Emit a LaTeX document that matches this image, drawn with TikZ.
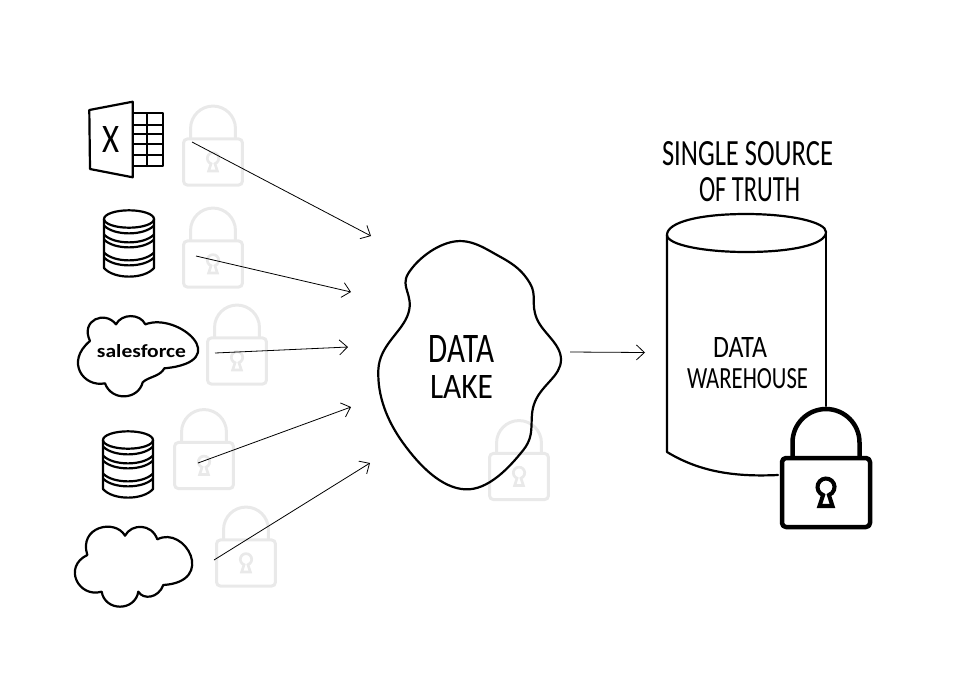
\documentclass[tikz,border=0pt]{standalone}
\usepackage{fontspec}
\setmainfont{Carlito}
\usepackage{tikz}
\usetikzlibrary{arrows.meta}

\definecolor{lockgrey}{HTML}{E9E9E9}
\newcommand{\fitlabel}[3]{\resizebox{#1pt}{#2pt}{#3}}

\tikzset{
 sketch/.style={line width=2.2pt,line join=round,line cap=round},
 flow/.style={->,line width=0.8pt},
 word/.style={inner sep=0pt,outer sep=0pt},
 >={Straight Barb[length=8pt,width=15pt,line width=0.8pt]},
 padlock/.pic={
  \draw[rounded corners=4pt] (-44,-34.5) rectangle (44,34.5);
  \draw (-33.5,-34.5) -- (-33.5,-50) arc[start angle=180,end angle=360,radius=33.5] -- (33.5,-34.5);
  \draw[line width=.95\pgflinewidth,line join=miter] (-6.5,13.5) -- (-2.9,2.5) arc[start angle=110,end angle=430,radius=8.5] -- (6.5,13.5) -- cycle;
 },
 dbstack/.pic={
  \draw (0,0) ellipse (25 and 8.7);
  \draw (-25,0) -- (-25,49) .. controls (-15,60.5) and (15,60.5) .. (25,49) -- (25,0);
  \foreach \dy in {6.5,15.5,20.5,33.5,38.5}
   \draw (-25,\dy) .. controls (-15,\dy+10.5) and (15,\dy+10.5) .. (25,\dy);
 },
}

\begin{document}
\begin{tikzpicture}[x=1pt,y=-1pt]
\useasboundingbox (0,0) rectangle (979,697);

 \path pic[color=lockgrey,line width=3pt,scale=.67] (lockA) at (213,162) {padlock};
 \path pic[color=lockgrey,line width=3pt,scale=.67] (lockB) at (213,264) {padlock};
 \path pic[color=lockgrey,line width=3pt,scale=.67] (lockC) at (237,361) {padlock};
 \path pic[color=lockgrey,line width=3pt,scale=.67] (lockD) at (204,465.5) {padlock};
 \path pic[color=lockgrey,line width=3pt,scale=.67] (lockE) at (246,563) {padlock};
 \path pic[color=lockgrey,line width=3pt,scale=.67] (lockF) at (519,476.5) {padlock};

 \draw[sketch] (89.3,110) -- (132.7,101.7) -- (132.7,177.3) -- (90,169) -- cycle;
 \draw[sketch] (134,113.3) -- (162.7,113.3) -- (162.7,166) -- (134,166);
 \draw[sketch] (147.3,113.3) -- (147.3,166);
 \foreach \rowy in {125,134.3,144.3,155}
  \draw[sketch] (134,\rowy) -- (162.7,\rowy);
 \node[word] (excel) at (110.5,139) {\fitlabel{17}{26}{X}};

 \path pic[sketch] (dbA) at (129,219) {dbstack};
 \path pic[sketch] (dbB) at (128,440) {dbstack};

\begin{scope}[shift={(70,305)},scale=1/3]
 \draw[sketch] (60,108) .. controls (30,45) and (105,15) .. (138,58)
  .. controls (155,25) and (210,25) .. (226,58)
  .. controls (325,20) and (495,170) .. (283,190)
  .. controls (270,215) and (235,215) .. (218,232)
  .. controls (205,285) and (125,290) .. (105,235)
  .. controls (40,248) and (-15,170) .. (60,108);
\end{scope}
 \node[word] (sales) at (141.5,351) {\fitlabel{89}{13}{\bfseries salesforce}};

\begin{scope}[shift={(60,390)},scale=1/3]
 \draw[sketch] (82,495) .. controls (55,410) and (165,385) .. (195,437)
  .. controls (215,400) and (275,400) .. (292,448)
  .. controls (375,405) and (470,575) .. (310,585)
  .. controls (295,625) and (250,630) .. (235,605)
  .. controls (225,665) and (135,665) .. (125,605)
  .. controls (55,625) and (8,530) .. (82,495);
\end{scope}

\begin{scope}[shift={(360,230)},scale=1/3]
 \draw[sketch] plot[smooth cycle,tension=.7] coordinates {(280,35) (420,80) (510,160) (530,265)
  (603,390) (525,515) (490,660) (315,778) (130,640) (55,420) (145,250) (145,130)};
\end{scope}
 \node[word] (lakeA) at (461.5,349) {\fitlabel{65}{27}{DATA}};
 \node[word] (lakeB) at (461.5,387) {\fitlabel{63}{23}{LAKE}};

 \draw[sketch] (746,214) .. controls (700,214) and (667,222) .. (667,235)
  .. controls (667,245) and (705,252) .. (746,252)
  .. controls (790,252) and (826,245) .. (826,232)
  .. controls (826,222) and (790,214) .. (746,214);
 \draw[sketch] (667,235) -- (667,452) .. controls (700,472) and (735,477) .. (778,475);
 \draw[sketch] (826,232) -- (826,406);
 \node[word] (wareA) at (740,347) {\fitlabel{54}{20}{DATA}};
 \node[word] (wareB) at (747.5,379) {\fitlabel{121}{20}{WAREHOUSE}};
 \node[word] (truthA) at (747.5,154) {\fitlabel{171}{24}{SINGLE SOURCE}};
 \node[word] (truthB) at (749.5,190) {\fitlabel{101}{24}{OF TRUTH}};

 \path pic[line width=4.5pt,line join=round] (lockG) at (826,492.5) {padlock};

 \coordinate (fromA) at (192,142);
 \coordinate (toA) at (371,236);
 \coordinate (fromB) at (196,256);
 \coordinate (toB) at (351,292);
 \coordinate (fromC) at (215,353);
 \coordinate (toC) at (348,347);
 \coordinate (fromD) at (198,463);
 \coordinate (toD) at (351,407);
 \coordinate (fromE) at (214,560);
 \coordinate (toE) at (370,463);
 \coordinate (fromF) at (570,352);
 \coordinate (toF) at (645,352.5);

 \draw[flow] (fromA) -- (toA);
 \draw[flow] (fromB) -- (toB);
 \draw[flow] (fromC) -- (toC);
 \draw[flow] (fromD) -- (toD);
 \draw[flow] (fromE) -- (toE);
 \draw[flow] (fromF) -- (toF);

\end{tikzpicture}
\end{document}
